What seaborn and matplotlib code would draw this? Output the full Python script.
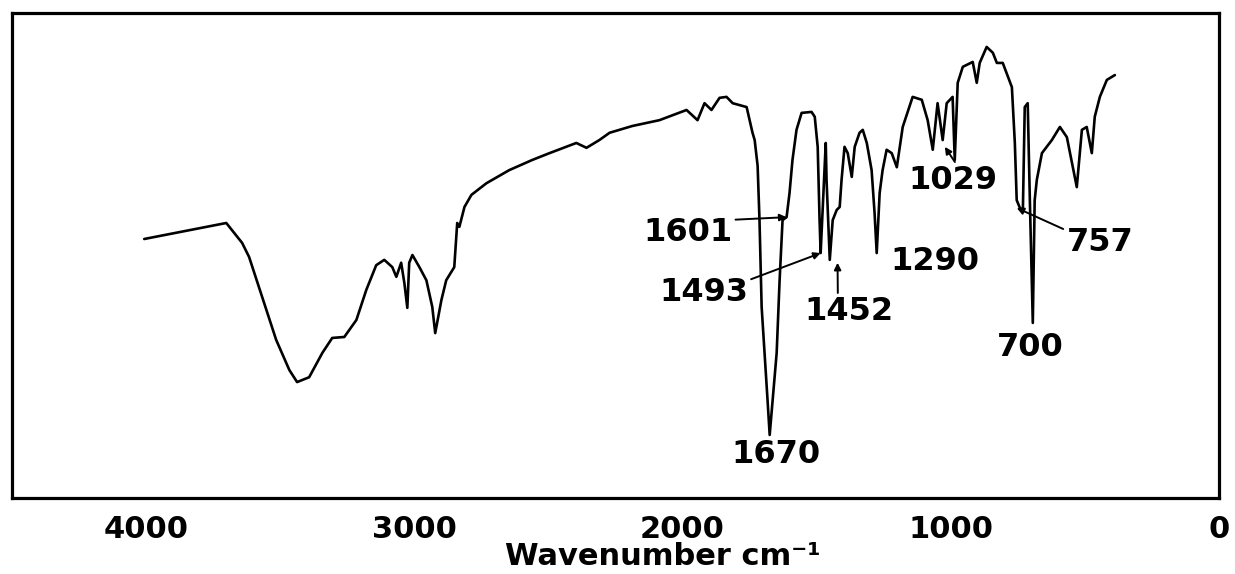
import numpy as np
import pandas as pd
import matplotlib
matplotlib.use("Agg")
import matplotlib.pyplot as plt
import seaborn as sns

# FTIR spectrum (wavenumber in cm-1, transmittance in arbitrary %)
wavenumber = [4007, 3701, 3642, 3616, 3567, 3515, 3466, 3437, 3392, 3343,
              3306, 3261, 3216, 3179, 3142, 3112, 3082, 3067, 3049, 3037,
              3026, 3019, 3007, 2981, 2955, 2933, 2922, 2899, 2881, 2851,
              2840, 2832, 2813, 2787, 2731, 2646, 2560, 2496, 2396, 2358,
              2310, 2272, 2187, 2086, 1985, 1944, 1918, 1892, 1862, 1836,
              1813, 1787, 1761, 1739, 1731, 1720, 1713, 1705, 1694, 1683,
              1675, 1664, 1649, 1638, 1627, 1612, 1601, 1590, 1575, 1556,
              1519, 1507, 1496, 1489, 1485, 1478, 1466, 1463, 1451, 1440,
              1425, 1414, 1407, 1396, 1384, 1369, 1358, 1340, 1328, 1313,
              1295, 1284, 1276, 1265, 1254, 1239, 1220, 1201, 1179, 1142,
              1108, 1086, 1067, 1049, 1030, 1015, 993, 985, 974, 955,
              918, 903, 892, 866, 843, 828, 806, 772, 761, 754,
              742, 731, 724, 713, 705, 694, 687, 679, 660, 623,
              593, 567, 530, 511, 493, 474, 463, 444, 418, 388]
transmittance = [53.4, 56.7, 52.6, 49.7, 41.4, 32.6, 26.4, 23.9, 24.9, 29.9,
                 33.0, 33.2, 36.7, 42.9, 48.0, 49.1, 47.6, 45.6, 48.5, 44.3,
                 39.2, 48.5, 50.1, 47.6, 44.9, 39.4, 34.0, 40.8, 44.9, 47.6,
                 56.7, 55.9, 60.0, 62.5, 64.9, 67.6, 69.7, 71.1, 73.2, 72.2,
                 73.8, 75.3, 76.7, 77.9, 80.0, 77.9, 81.4, 80.0, 82.5, 82.7,
                 81.4, 81.0, 80.6, 75.3, 73.8, 68.5, 57.3, 39.4, 29.9, 20.2,
                 13.0, 20.2, 29.9, 44.9, 57.3, 57.9, 62.9, 69.7, 75.9, 79.4,
                 79.6, 78.6, 72.4, 57.3, 50.5, 58.8, 73.2, 65.6, 49.1, 57.3,
                 59.4, 60.0, 65.6, 72.4, 71.1, 66.2, 72.4, 75.3, 75.9, 73.2,
                 67.6, 58.8, 50.5, 62.9, 67.6, 71.8, 71.1, 68.2, 76.5, 82.7,
                 82.1, 77.9, 71.8, 81.4, 73.8, 81.4, 82.7, 69.7, 85.6, 88.9,
                 89.9, 85.6, 89.7, 93.0, 91.8, 89.7, 89.7, 84.7, 73.2, 61.4,
                 59.8, 59.4, 80.6, 81.4, 61.4, 36.1, 61.4, 65.6, 71.1, 73.8,
                 76.5, 74.4, 64.1, 75.9, 76.5, 71.1, 78.6, 82.7, 86.2, 87.2]

major_ticks = [4000, 3000, 2000, 1000, 0]
minor_ticks = [4500, 3500, 2500, 1500, 500]

df = pd.DataFrame({"wavenumber": wavenumber, "T": transmittance})

sns.set_style("white")
plt.rcParams["font.family"] = ["DejaVu Sans"]
plt.rcParams["font.weight"] = "bold"
plt.rcParams["text.color"] = "black"
plt.rcParams["axes.labelcolor"] = "black"
plt.rcParams["xtick.color"] = "black"
plt.rcParams["xtick.labelcolor"] = "black"

fig = plt.figure(figsize=(12.35, 5.74), dpi=100)
ax = fig.add_axes([0.0097, 0.1324, 0.9773, 0.845])

sns.lineplot(data=df, x="wavenumber", y="T", sort=False, estimator=None,
             color="black", lw=1.9, ax=ax)

ax.set_xlim(4500, 0)
ax.set_ylim(0, 100)
ax.set_xticks(major_ticks)
ax.set_xticks(minor_ticks, minor=True)
ax.set_xticklabels([str(t) for t in major_ticks], fontsize=22, fontweight="bold")
ax.set_yticks([])
ax.set_ylabel("")
ax.tick_params(axis="x", which="major", direction="out", length=12, width=2.5, pad=0)
ax.tick_params(axis="x", which="minor", direction="out", length=6, width=2.5)
for s in ax.spines.values():
    s.set_linewidth(2.3)
    s.set_color("black")

ax.set_xlabel("Wavenumber cm⁻¹", fontsize=22, fontweight="bold")
ax.xaxis.set_label_coords(0.539, -0.09)

txt = dict(fontsize=23, fontweight="bold", ha="center", va="center", color="black")
arrow = dict(arrowstyle="-|>", color="black", lw=1.4, shrinkA=0, shrinkB=0,
             mutation_scale=10)

ax.text(1653, 8.9, "1670", **txt)
ax.annotate("1601", xy=(1612, 57.9), xytext=(1981, 54.8),
            arrowprops=dict(arrow, relpos=(1, 0.9)), **txt)
ax.annotate("1493", xy=(1485, 50.5), xytext=(1922, 42.3),
            arrowprops=dict(arrow, relpos=(1, 0.9)), **txt)
ax.annotate("1452", xy=(1422, 48.5), xytext=(1381, 38.4),
            arrowprops=dict(arrow, relpos=(0.38, 1)), **txt)
ax.text(1060, 48.7, "1290", **txt)
ax.annotate("1029", xy=(1022, 72.4), xytext=(993, 65.4),
            arrowprops=dict(arrow, relpos=(0.55, 1)), **txt)
ax.annotate("757", xy=(754, 59.8), xytext=(444, 52.6),
            arrowprops=dict(arrow, relpos=(0, 0.9)), **txt)
ax.text(705, 31.1, "700", **txt)

fig.savefig("out.png", dpi=100)
